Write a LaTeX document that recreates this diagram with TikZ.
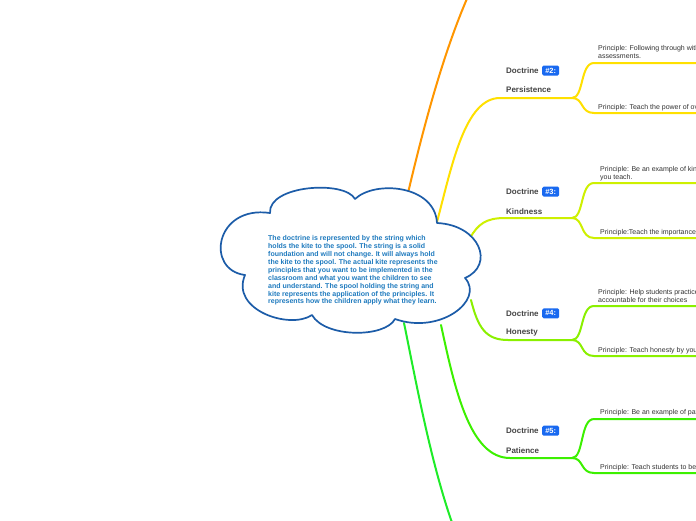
\documentclass[tikz,border=0pt]{standalone}
\usepackage{fontspec}
\setmainfont{Liberation Sans}
\definecolor{cloudblue}{RGB}{28,92,168}
\definecolor{cloudtext}{RGB}{30,122,190}
\definecolor{doctext}{RGB}{68,68,68}
\definecolor{princtext}{RGB}{51,51,51}
\definecolor{badgeblue}{RGB}{25,105,240}
\definecolor{colA}{RGB}{255,150,0}
\definecolor{colB}{RGB}{255,224,0}
\definecolor{colC}{RGB}{206,240,0}
\definecolor{colD}{RGB}{138,240,0}
\definecolor{colE}{RGB}{60,240,0}
\definecolor{colF}{RGB}{30,236,40}
\begin{document}
\begin{tikzpicture}[x=1pt,y=-1pt,
  cloudline/.style={draw=cloudblue,line width=1.7pt,fill=white,line join=round},
  cloudtxt/.style={text=cloudtext,font=\fontsize{7}{7.9}\selectfont\bfseries,align=left,inner sep=0pt,anchor=west},
  doclbl/.style={text=doctext,font=\fontsize{8}{9}\selectfont\bfseries,inner sep=0pt,anchor=west},
  badge/.style={fill=badgeblue,text=white,font=\fontsize{7.5}{8}\selectfont\bfseries,rounded corners=1.5pt,inner xsep=1pt,inner ysep=0pt,minimum height=10pt,minimum width=17pt,anchor=west},
  princ/.style={text=princtext,font=\fontsize{7}{8}\selectfont,align=left,inner sep=0pt,anchor=west},
  link/.style={line width=2pt,line cap=round},
]
\clip (0,0) rectangle (696,520);
\fill[white] (0,0) rectangle (696,520);

% ---------- connectors ----------
% branch 1 (off canvas, top)
\coordinate (s1) at (408,193);
\coordinate (e1) at (545,-90);
\draw[link,colA] (s1) .. controls (430,100) and (478,-90) .. (e1);

% branch 2: Persistence
\coordinate (s2) at (437,222);
\coordinate (u2) at (500,98);
\coordinate (j2) at (572,98);
\coordinate (a2) at (594,63);  \coordinate (a2e) at (705,63);
\coordinate (b2) at (594,113); \coordinate (b2e) at (705,113);
\draw[link,colB] (s2) .. controls (452,165) and (465,98) .. (u2) -- (j2);
\draw[link,colB] (j2) .. controls (584,98) and (580,63) .. (a2) -- (a2e);
\draw[link,colB] (j2) .. controls (584,98) and (580,113) .. (b2) -- (b2e);

% branch 3: Kindness
\coordinate (s3) at (470,238);
\coordinate (u3) at (505,218);
\coordinate (j3) at (572,218);
\coordinate (a3) at (594,183);  \coordinate (a3e) at (705,183);
\coordinate (b3) at (594,238);  \coordinate (b3e) at (705,238);
\draw[link,colC] (s3) .. controls (478,224) and (486,218) .. (u3) -- (j3);
\draw[link,colC] (j3) .. controls (584,218) and (580,183) .. (a3) -- (a3e);
\draw[link,colC] (j3) .. controls (584,218) and (580,238) .. (b3) -- (b3e);

% branch 4: Honesty
\coordinate (s4) at (471,300);
\coordinate (u4) at (508,340);
\coordinate (j4) at (572,340);
\coordinate (a4) at (594,306);  \coordinate (a4e) at (705,306);
\coordinate (b4) at (594,356);  \coordinate (b4e) at (705,356);
\draw[link,colD] (s4) .. controls (478,328) and (486,340) .. (u4) -- (j4);
\draw[link,colD] (j4) .. controls (584,340) and (580,306) .. (a4) -- (a4e);
\draw[link,colD] (j4) .. controls (584,340) and (580,356) .. (b4) -- (b4e);

% branch 5: Patience
\coordinate (s5) at (441,325);
\coordinate (u5) at (510,458);
\coordinate (j5) at (572,458);
\coordinate (a5) at (594,419);  \coordinate (a5e) at (705,419);
\coordinate (b5) at (594,473);  \coordinate (b5e) at (705,473);
\draw[link,colE] (s5) .. controls (455,390) and (470,458) .. (u5) -- (j5);
\draw[link,colE] (j5) .. controls (584,458) and (580,419) .. (a5) -- (a5e);
\draw[link,colE] (j5) .. controls (584,458) and (580,473) .. (b5) -- (b5e);

% branch 6 (off canvas, bottom)
\coordinate (s6) at (404,323);
\coordinate (e6) at (520,615);
\draw[link,colF] (s6) .. controls (424,420) and (455,605) .. (e6);

% ---------- cloud ----------
\draw[cloudline] (270,213)
  .. controls (268,185) and (345,180) .. (355,199)
  .. controls (375,180) and (435,185) .. (437,223)
  .. controls (480,225) and (495,265) .. (465,278)
  .. controls (485,300) and (440,335) .. (395,319)
  .. controls (385,338) and (325,338) .. (312,315)
  .. controls (290,330) and (230,310) .. (245,275)
  .. controls (205,270) and (215,205) .. cycle;
\node[cloudtxt] (root) at (268,270.5) {The doctrine is represented by the string which\\
holds the kite to the spool. The string is a solid\\
foundation and will not change. It will always hold\\
the kite to the spool. The actual kite represents the\\
principles that you want to be implemented in the\\
classroom and what you want the children to see\\
and understand. The spool holding the string and\\
kite represents the application of the principles. It\\
represents how the children apply what they learn.};

% ---------- labels ----------
\node[doclbl] (d2) at (506,70.5) {Doctrine};
\node[badge] (h2) at (542,70.5) {\#2:};
\node[doclbl] (n2) at (506,89.5) {Persistence};
\node[princ] (p2a) at (598,52.2) {Principle: Following through with\\assessments.};
\node[princ] (p2b) at (598,107.5) {Principle: Teach the power of ov};

\node[doclbl] (d3) at (506,191.7) {Doctrine};
\node[badge] (h3) at (542,191.7) {\#3:};
\node[doclbl] (n3) at (506,211.7) {Kindness};
\node[princ] (p3a) at (600,173.5) {Principle: Be an example of kin\\you teach.};
\node[princ] (p3b) at (600,232.3) {Principle:Teach the importance};

\node[doclbl] (d4) at (506,313.3) {Doctrine};
\node[badge] (h4) at (542,313.3) {\#4:};
\node[doclbl] (n4) at (506,332.3) {Honesty};
\node[princ] (p4a) at (598,295.5) {Principle: Help students practice\\accountable for their choices};
\node[princ] (p4b) at (598,350.7) {Principle: Teach honesty by you};

\node[doclbl] (d5) at (506,430.7) {Doctrine};
\node[badge] (h5) at (542,430.7) {\#5:};
\node[doclbl] (n5) at (506,450.7) {Patience};
\node[princ] (p5a) at (600,412.7) {Principle: Be an example of pat};
\node[princ] (p5b) at (600,467.3) {Principle: Teach students to be};
\end{tikzpicture}
\end{document}
